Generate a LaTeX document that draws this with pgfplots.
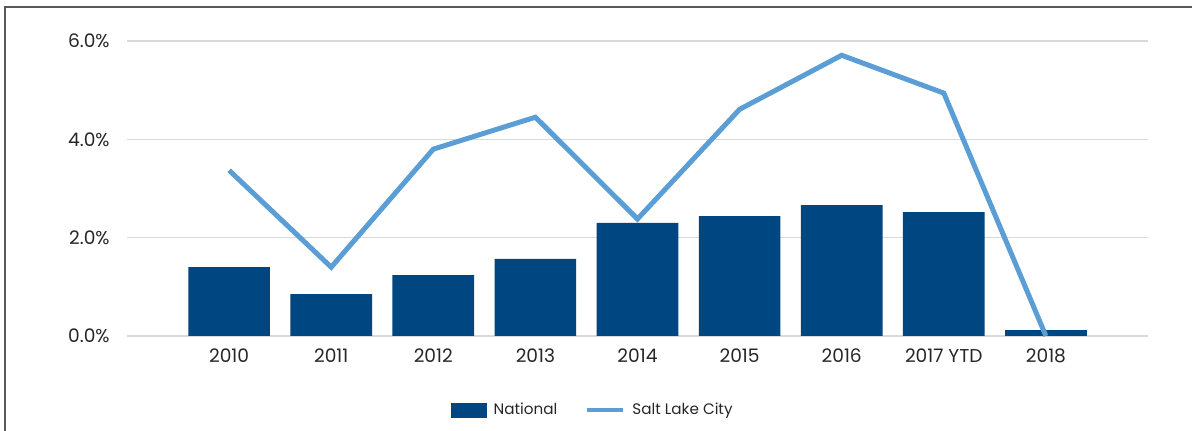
\documentclass[border=0pt]{standalone}
\usepackage{pgfplots}
\pgfplotsset{compat=1.18}
\usepackage{pgfplotstable}
\usepackage{fontspec}
\setmainfont{Poppins}
\definecolor{natblue}{RGB}{0,70,128}
\definecolor{slcblue}{RGB}{91,157,213}
\definecolor{gridgray}{RGB}{217,217,217}
\definecolor{txt}{RGB}{38,38,38}
\pgfplotstableread{
x nat slc
0 1.40 3.37
1 0.85 1.40
2 1.24 3.80
3 1.57 4.45
4 2.30 2.38
5 2.44 4.61
6 2.66 5.71
7 2.52 4.94
8 0.12 0.00
}\data
\begin{document}
\begin{tikzpicture}
\useasboundingbox (0,0) rectangle (596pt,215.5pt);
\draw[gray!70!black, line width=0.7pt] (2.5pt,0) -- (2.5pt,212pt) -- (596pt,212pt);
\begin{axis}[
  at={(63.5pt,47.5pt)}, anchor=south west,
  scale only axis, width=510.5pt, height=147.5pt,
  xmin=-1, xmax=9, ymin=0, ymax=6,
  clip=false,
  axis line style={draw=none},
  tick style={draw=none},
  xtick={0,...,8},
  xticklabels={2010,2011,2012,2013,2014,2015,2016,2017 YTD,2018},
  ytick={0,2,4,6},
  yticklabels={0.0\%,2.0\%,4.0\%,6.0\%},
  ymajorgrids,
  major grid style={gridgray, line width=0.75pt},
  ticklabel style={font=\fontsize{9.3}{11}\selectfont, text=txt},
  yticklabel style={anchor=east, inner sep=0pt, xshift=-8.5pt},
  xticklabel style={anchor=north, inner sep=0pt, yshift=-6pt},
  legend style={at={(0.457,-0.251)}, anchor=center, draw=none, fill=none,
    font=\fontsize{7.6}{10}\selectfont, text=txt,
    /tikz/every odd column/.append style={column sep=1.5pt},
    /tikz/every even column/.append style={column sep=12pt}},
  legend columns=2,
  legend cell align=left,
]
\addplot[ybar, bar width=0.8, fill=natblue, draw=none,
  legend image code/.code={\fill[natblue] (0pt,-3.75pt) rectangle (18pt,3.75pt);}]
  table[x=x, y=nat] {\data};
\addlegendentry{National}
\addplot[slcblue, line width=2.5pt, line join=miter, mark=none,
  legend image code/.code={\draw[slcblue, line width=2pt] (0pt,0pt) -- (18pt,0pt);}]
  table[x=x, y=slc] {\data};
\addlegendentry{Salt Lake City}
\end{axis}
\end{tikzpicture}
\end{document}
